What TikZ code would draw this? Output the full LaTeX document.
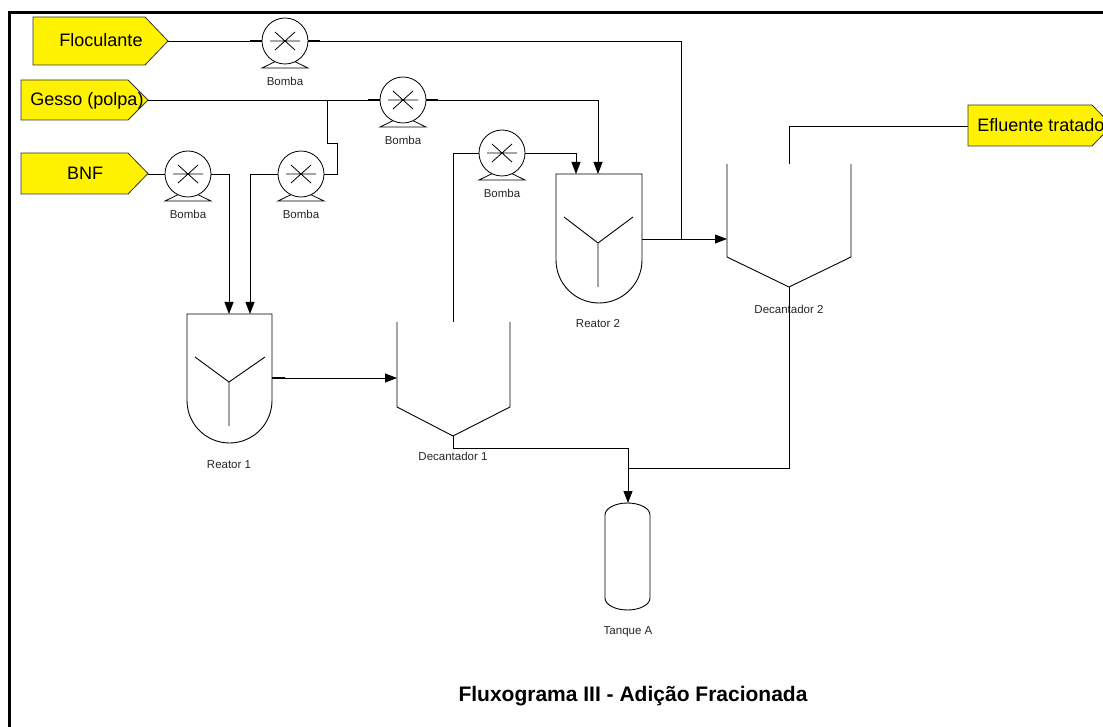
\documentclass[tikz,border=0pt]{standalone}
\usepackage{fontspec}
\setmainfont{Liberation Sans}
\usetikzlibrary{arrows.meta}
\newcommand\pumpsym[3]{% name, x, y
\begin{scope}[shift={(#2,#3)}]
\draw (-10,20.7) -- (-23,27) -- (23,27) -- (10,20.7);
\node[pumpc] (#1) at (0,0) {};
\draw (-15,0) -- (15,0) (-10,-9) -- (10,9) (-10,9) -- (10,-9);
\node[lbl, anchor=base] (#1-l) at (0,45) {Bomba};
\end{scope}}
\begin{document}
\begin{tikzpicture}[x=1pt,y=-1pt, line width=0.8pt,
 pipe/.style={draw, line width=0.8pt},
 flow/.style={pipe, -{Triangle[length=12pt,width=9pt]}},
 tag/.style={draw=black!80, fill=yellow, line width=0.8pt},
 tagtext/.style={font=\fontsize{18}{20}\selectfont, inner sep=0, anchor=base},
 lbl/.style={font=\fontsize{11.5}{13}\selectfont, text=black!85, inner sep=0},
 pumpc/.style={circle, draw, fill=white, minimum size=46pt, inner sep=0},
 stub/.style={line width=1.8pt},
 equip/.style={draw, line width=0.9pt}]

\useasboundingbox (0,0) rectangle (1103,727);
\clip (0,0) rectangle (1103,727);
\draw[line width=3pt] (9,740) -- (9,13) -- (1120,13);

% tags
\draw[tag] (33,17) -- (145,17) -- (168,41) -- (145,65) -- (33,65) -- cycle;
\node[tagtext] (floc) at (101,47) {Floculante};
\coordinate (flocout) at (168,41);
\draw[tag] (21,80) -- (128,80) -- (148,100) -- (128,120) -- (21,120) -- cycle;
\node[tagtext] (gesso) at (87,106) {Gesso (polpa)};
\coordinate (gessoout) at (148,100);
\draw[tag] (21,153) -- (128,153) -- (148,173.5) -- (128,194) -- (21,194) -- cycle;
\node[tagtext] (bnf) at (85,180) {BNF};
\coordinate (bnfout) at (148,174);
\draw[tag] (968,105) -- (1092,105) -- (1112,125.5) -- (1092,146) -- (968,146) -- cycle;
\node[tagtext, anchor=base west] (eflu) at (977,132) {Efluente tratado};
\coordinate (efin) at (968,126);

% pumps
\pumpsym{p1}{285}{41}
\pumpsym{pb}{188}{174}
\pumpsym{p2}{301}{174}
\pumpsym{p3}{403}{100}
\pumpsym{p4}{502}{153}
\draw[stub] (p1.west) -- ++(-12,0) (p1.east) -- ++(12,0);
\draw[stub] (p3.west) -- ++(-12,0) (p3.east) -- ++(12,0);

% reactors
\draw[equip] (187,314) -- (272,314) -- (272,400.5) arc(0:180:42.5) -- cycle;
\draw[equip] (195,357) -- (229,382) -- (265,357) (229,382) -- (229,426);
\node[lbl, anchor=base] (r1) at (229,468) {Reator 1};
\coordinate (r1inA) at (229,314);
\coordinate (r1inB) at (250,314);
\coordinate (r1out) at (272,378);

\draw[equip] (556,174) -- (642,174) -- (642,260) arc(0:180:43) -- cycle;
\draw[equip] (564,217) -- (598,243) -- (633,217) (598,243) -- (598,287);
\node[lbl, anchor=base] (r2) at (598,327) {Reator 2};
\coordinate (r2inA) at (576,174);
\coordinate (r2inB) at (598,174);
\coordinate (r2out) at (642,239);

% decanters
\draw[equip] (397,322) -- (397,407) -- (453,436) -- (510,407) -- (510,322);
\node[lbl, anchor=base] (d1) at (453,460) {Decantador 1};
\coordinate (d1in) at (397,378);
\coordinate (d1top) at (453,322);
\coordinate (d1bot) at (453,436);

\draw[equip] (727,164) -- (727,257) -- (789,287) -- (851,257) -- (851,164);
\node[lbl, anchor=base] (d2) at (789,313) {Decantador 2};
\coordinate (d2in) at (727,239);
\coordinate (d2top) at (789,164);
\coordinate (d2bot) at (789,287);

% tank
\draw[equip] (605,515) arc(180:360:22.5 and 12) -- (650,598) arc(0:180:22.5 and 12) -- cycle;
\node[lbl, anchor=base] (tk) at (628,634) {Tanque A};
\coordinate (tkin) at (628,503);

% pipes
\draw[pipe] (flocout) -- (p1.west);
\draw[pipe] (p1.east) -- (681,41) -- (681,239);
\draw[flow] (r2out) -- (d2in);
\draw[pipe] (gessoout) -- (p3.west);
\draw[flow] (p3.east) -- (598,100) -- (r2inB);
\draw[pipe] (327,100) -- (327,143) -- (337,143) -- (337,174) -- (p2.east);
\draw[flow] (p2.west) -- (250,174) -- (r1inB);
\draw[pipe] (bnfout) -- (pb.west);
\draw[flow] (pb.east) -- (229,174) -- (r1inA);
\draw[flow] (r1out) -- (d1in);
\draw[stub] (r1out) -- (285,378);
\draw[pipe] (d1top) -- (453,153) -- (p4.west);
\draw[flow] (p4.east) -- (576,153) -- (r2inA);
\draw[flow] (d1bot) -- (453,448) -- (628,448) -- (tkin);
\draw[pipe] (d2bot) -- (789,468) -- (628,468);
\draw[pipe] (d2top) -- (789,126) -- (efin);

% title
\node[font=\bfseries\fontsize{21}{24}\selectfont, anchor=base, inner sep=0] (title) at (633,701) {Fluxograma III - Adição Fracionada};
\end{tikzpicture}
\end{document}
